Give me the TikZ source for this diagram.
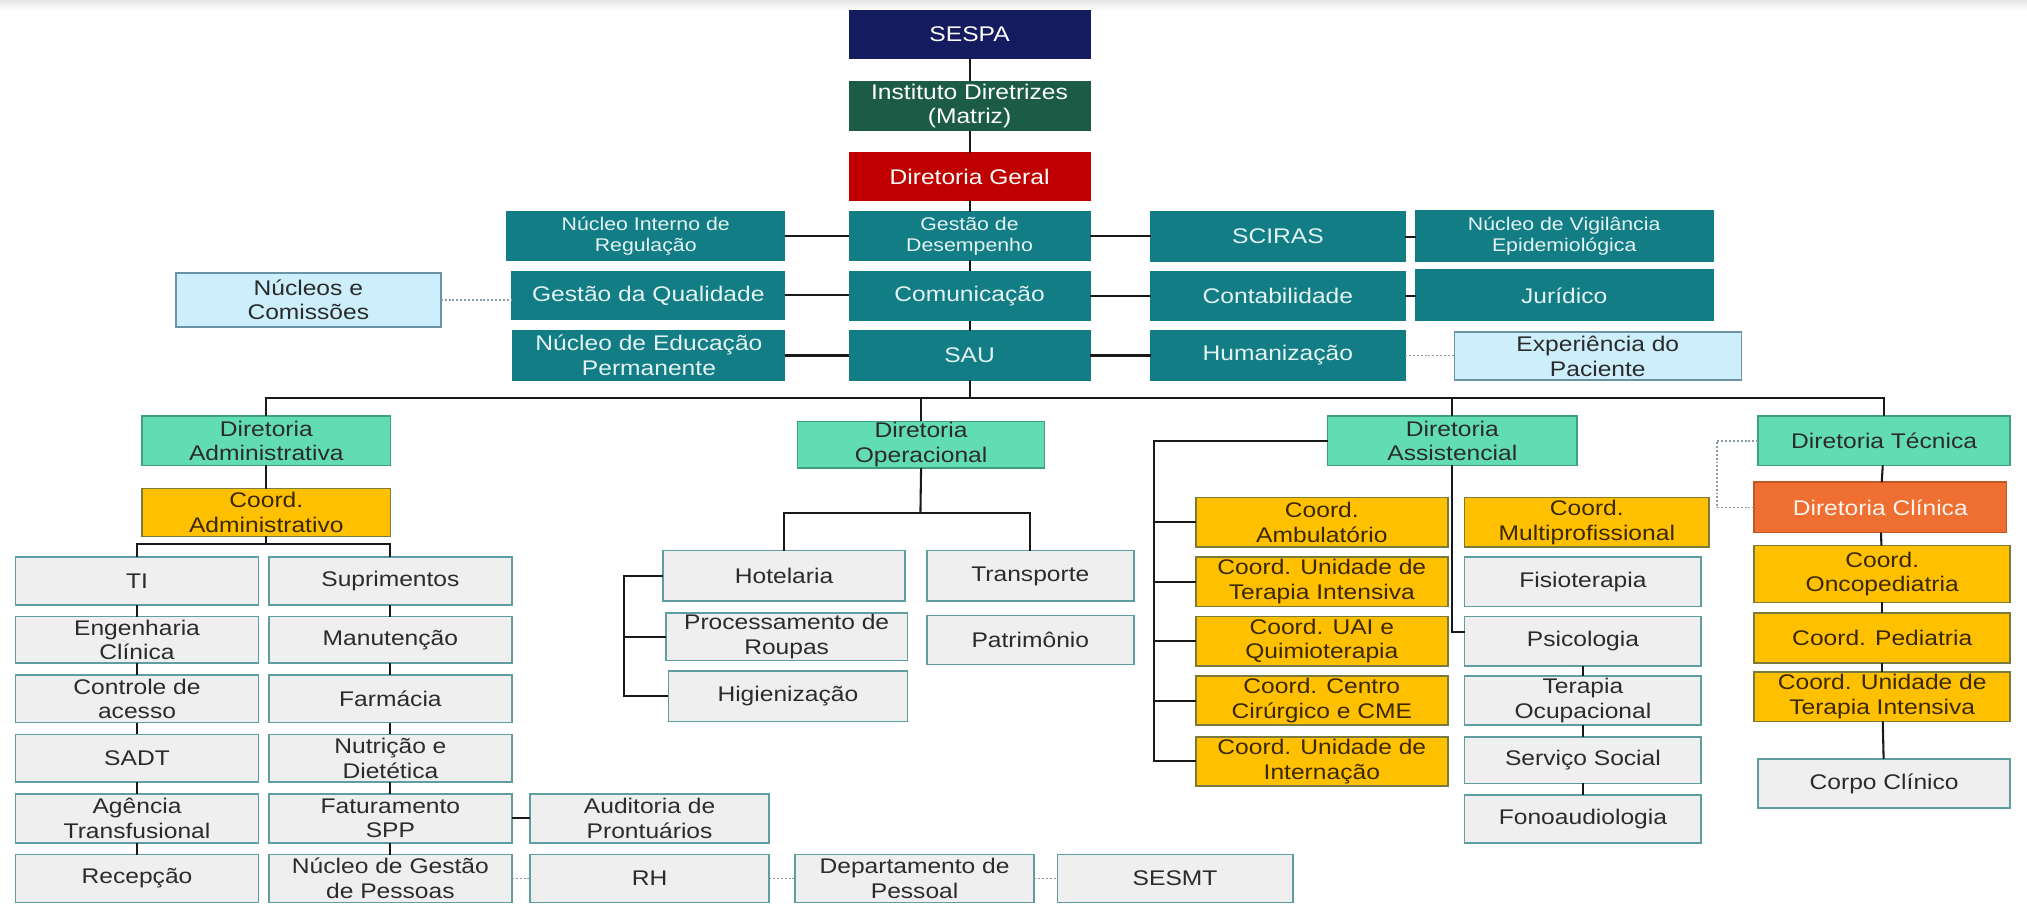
\documentclass[tikz,border=0pt]{standalone}
\usepackage{fontspec}
\setmainfont{Liberation Sans}[FakeStretch=1.16]
\definecolor{navyc}{HTML}{141B5E}
\definecolor{dgreenc}{HTML}{1C5C46}
\definecolor{dredc}{HTML}{C00000}
\definecolor{tealc}{HTML}{137D85}
\definecolor{tealtxt}{HTML}{E4F3F3}
\definecolor{mintc}{HTML}{62DDB3}
\definecolor{mintb}{HTML}{3F9F7F}
\definecolor{yelc}{HTML}{FFC000}
\definecolor{yelb}{HTML}{7A7A3A}
\definecolor{yeltxt}{HTML}{3A2800}
\definecolor{lgrayc}{HTML}{EFEFF0}
\definecolor{lgrayb}{HTML}{5E9EA0}
\definecolor{lbluec}{HTML}{CDEEFB}
\definecolor{lblueb}{HTML}{6A93A8}
\definecolor{orngc}{HTML}{EE6F31}
\definecolor{darktxt}{HTML}{2B2B2B}
\definecolor{dotc}{HTML}{8A9AA8}
\newcommand\mainf{\fontsize{16.4}{19}\selectfont}
\newcommand\smallf{\fontsize{14.2}{16.5}\selectfont}
\newcommand\mkbox[7]{\node[#6, minimum width={(#4-#2)*1pt}, minimum height={(#5-#3)*1pt}] (#1) at ({(#2+#4)/2},{(#3+#5)/2}) {#7};}
\tikzset{
  box/.style={rectangle, inner sep=0pt, outer sep=0pt, align=center, line width=1.2pt, font=\mainf},
  navybox/.style={box, fill=navyc, draw=navyc, text=white},
  greenbox/.style={box, fill=dgreenc, draw=dgreenc, text=white},
  redbox/.style={box, fill=dredc, draw=dredc, text=white},
  tbox/.style={box, fill=tealc, draw=tealc, text=tealtxt},
  tsbox/.style={tbox, font=\smallf},
  mbox/.style={box, fill=mintc, draw=mintb, text=darktxt},
  ybox/.style={box, fill=yelc, draw=yelb, text=yeltxt},
  gbox/.style={box, fill=lgrayc, draw=lgrayb, text=darktxt},
  bbox/.style={box, fill=lbluec, draw=lblueb, text=darktxt},
  obox/.style={box, fill=orngc, draw=orngc!80!black, text=white!92!orngc},
  ln/.style={line width=1.6pt, draw=black!90},
  dln/.style={line width=1.3pt, draw=dotc, dash pattern=on 1.5pt off 1.5pt},
}
\begin{document}
\begin{tikzpicture}[x=1pt, y=-1pt]
\useasboundingbox (0,0) rectangle (1568,699);
\fill[white] (0,0) rectangle (1568,699);
\shade[top color=black!10, bottom color=white] (0,0) rectangle (1568,8);
% top column
\mkbox{sespa}{657}{8}{843}{45}{navybox}{SESPA}
\mkbox{inst}{657}{63}{843}{101}{greenbox}{Instituto Diretrizes\\(Matriz)}
\mkbox{dg}{657}{118}{843}{155}{redbox}{Diretoria Geral}
% row 1
\mkbox{nir}{392}{164}{607}{201}{tsbox}{Núcleo Interno de\\Regulação}
\mkbox{gd}{657}{164}{843}{201}{tsbox}{Gestão de\\Desempenho}
\mkbox{sci}{890}{164}{1087}{202}{tbox}{SCIRAS}
\mkbox{nve}{1095}{163}{1325}{202}{tsbox}{Núcleo de Vigilância\\Epidemiológica}
% row 2
\mkbox{nc}{136}{211}{341}{253}{bbox}{Núcleos e\\Comissões}
\mkbox{gq}{396}{210}{607}{247}{tbox}{Gestão da Qualidade}
\mkbox{com}{657}{210}{843}{248}{tbox}{Comunicação}
\mkbox{cont}{890}{210}{1087}{248}{tbox}{Contabilidade}
\mkbox{jur}{1095}{209}{1325}{248}{tbox}{Jurídico}
% row 3
\mkbox{nep}{397}{256}{607}{294}{tbox}{Núcleo de Educação\\Permanente}
\mkbox{sau}{657}{256}{843}{294}{tbox}{SAU}
\mkbox{hum}{890}{256}{1087}{294}{tbox}{Humanização}
\mkbox{exp}{1125}{257}{1347}{294}{bbox}{Experiência do\\Paciente}
% diretorias
\mkbox{dadm}{110}{322}{302}{360}{mbox}{Diretoria\\Administrativa}
\mkbox{dop}{617}{326}{808}{362}{mbox}{Diretoria\\Operacional}
\mkbox{das}{1027}{322}{1220}{360}{mbox}{Diretoria\\Assistencial}
\mkbox{dtec}{1360}{322}{1555}{360}{mbox}{Diretoria Técnica}
% administrativa
\mkbox{cadm}{110}{378}{302}{415}{ybox}{Coord.\\Administrativo}
\mkbox{ti}{12}{431}{200}{468}{gbox}{TI}
\mkbox{eng}{12}{477}{200}{513}{gbox}{Engenharia\\Clínica}
\mkbox{ctrl}{12}{522}{200}{559}{gbox}{Controle de\\acesso}
\mkbox{sadt}{12}{568}{200}{605}{gbox}{SADT}
\mkbox{agt}{12}{614}{200}{652}{gbox}{Agência\\Transfusional}
\mkbox{rec}{12}{661}{200}{698}{gbox}{Recepção}
\mkbox{sup}{208}{431}{396}{468}{gbox}{Suprimentos}
\mkbox{man}{208}{477}{396}{513}{gbox}{Manutenção}
\mkbox{far}{208}{522}{396}{559}{gbox}{Farmácia}
\mkbox{nut}{208}{568}{396}{605}{gbox}{Nutrição e\\Dietética}
\mkbox{fat}{208}{614}{396}{652}{gbox}{Faturamento\\SPP}
\mkbox{ngp}{208}{661}{396}{698}{gbox}{Núcleo de Gestão\\de Pessoas}
\mkbox{aud}{410}{614}{595}{652}{gbox}{Auditoria de\\Prontuários}
\mkbox{rh}{410}{661}{595}{698}{gbox}{RH}
\mkbox{dp}{615}{661}{800}{698}{gbox}{Departamento de\\Pessoal}
\mkbox{sesmt}{818}{661}{1000}{698}{gbox}{SESMT}
% operacional
\mkbox{hot}{513}{426}{700}{465}{gbox}{Hotelaria}
\mkbox{pr}{515}{474}{702}{511}{gbox}{Processamento de\\Roupas}
\mkbox{hig}{517}{519}{702}{558}{gbox}{Higienização}
\mkbox{tra}{717}{426}{877}{465}{gbox}{Transporte}
\mkbox{pat}{717}{476}{877}{514}{gbox}{Patrimônio}
% assistencial
\mkbox{camb}{925}{385}{1120}{423}{ybox}{Coord.\\Ambulatório}
\mkbox{cuti}{925}{431}{1120}{469}{ybox}{Coord. Unidade de\\Terapia Intensiva}
\mkbox{cuai}{925}{477}{1120}{515}{ybox}{Coord. UAI e\\Quimioterapia}
\mkbox{ccc}{925}{523}{1120}{561}{ybox}{Coord. Centro\\Cirúrgico e CME}
\mkbox{cint}{925}{570}{1120}{608}{ybox}{Coord. Unidade de\\Internação}
\mkbox{cmul}{1133}{385}{1322}{423}{ybox}{Coord.\\Multiprofissional}
\mkbox{fis}{1133}{431}{1316}{469}{gbox}{Fisioterapia}
\mkbox{psi}{1133}{477}{1316}{515}{gbox}{Psicologia}
\mkbox{tocc}{1133}{523}{1316}{561}{gbox}{Terapia\\Ocupacional}
\mkbox{ss}{1133}{570}{1316}{606}{gbox}{Serviço Social}
\mkbox{fono}{1133}{615}{1316}{652}{gbox}{Fonoaudiologia}
% tecnica
\mkbox{dcli}{1357}{373}{1552}{412}{obox}{Diretoria Clínica}
\mkbox{conc}{1357}{422}{1555}{466}{ybox}{Coord.\\Oncopediatria}
\mkbox{cped}{1357}{474}{1555}{513}{ybox}{Coord. Pediatria}
\mkbox{cutt}{1357}{520}{1555}{558}{ybox}{Coord. Unidade de\\Terapia Intensiva}
\mkbox{ccli}{1360}{587}{1555}{625}{gbox}{Corpo Clínico}
% helper coordinates
\coordinate (bus) at (750,308);
\coordinate (ab) at (206,421);
\coordinate (ob) at (712,397);
\coordinate (obx) at (483,0);
\coordinate (ax) at (893,0);
\coordinate (tx) at (1328,0);
% connectors: top spine
\draw[ln] (sespa) -- (inst);
\draw[ln] (inst) -- (dg);
\draw[ln] (dg) -- (gd);
\draw[ln] (gd) -- (com);
\draw[ln] (com) -- (sau);
\draw[ln] (nir.east) -- (nir.east -| gd.west);
\draw[ln] (gd.east) -- (gd.east -| sci.west);
\draw[ln] (sci.east) -- (sci.east -| nve.west);
\draw[ln] (gq.east) -- (gq.east -| com.west);
\draw[ln] (com.east) -- (com.east -| cont.west);
\draw[ln] (cont.east) -- (cont.east -| jur.west);
\draw[ln] (nep.east) -- (nep.east -| sau.west);
\draw[ln] (sau.east) -- (sau.east -| hum.west);
\draw[dln] (nc.east) -- (nc.east -| gq.west);
\draw[dln] (hum.east) -- (hum.east -| exp.west);
% bus
\draw[ln] (sau.south) -- (bus);
\draw[ln] (dadm.north) |- (bus);
\draw[ln] (dtec.north) |- (bus);
\draw[ln] (dop.north) |- (bus);
\draw[ln] (das.north) |- (bus);
% administrativa
\draw[ln] (dadm) -- (cadm);
\draw[ln] (cadm.south) -- (ab);
\draw[ln] (ti.north) |- (ab);
\draw[ln] (sup.north) |- (ab);
\draw[ln] (ti) -- (eng);
\draw[ln] (eng) -- (ctrl);
\draw[ln] (ctrl) -- (sadt);
\draw[ln] (sadt) -- (agt);
\draw[ln] (agt) -- (rec);
\draw[ln] (sup) -- (man);
\draw[ln] (man) -- (far);
\draw[ln] (far) -- (nut);
\draw[ln] (nut) -- (fat);
\draw[ln] (fat) -- (ngp);
\draw[ln] (fat.east) -- (fat.east -| aud.west);
\draw[dln] (ngp.east) -- (ngp.east -| rh.west);
\draw[dln] (rh.east) -- (rh.east -| dp.west);
\draw[dln] (dp.east) -- (dp.east -| sesmt.west);
% operacional
\draw[ln] (dop.south) -- (ob);
\draw[ln] (hot.north) |- (ob);
\draw[ln] (tra.north) |- (ob);
\draw[ln] (hot.west) -- (hot.west -| obx) -- (hig.west -| obx) -- (hig.west);
\draw[ln] (pr.west) -- (pr.west -| obx);
% assistencial
\draw[ln] (das.west) -- (das.west -| ax) -- (cint.west -| ax) -- (cint.west);
\draw[ln] (camb.west -| ax) -- (camb.west);
\draw[ln] (cuti.west -| ax) -- (cuti.west);
\draw[ln] (cuai.west -| ax) -- (cuai.west);
\draw[ln] (ccc.west -| ax) -- (ccc.west);
\draw[ln] (das.south) |- ([yshift=7pt]psi.west);
\draw[ln] (psi) -- (tocc);
\draw[ln] (tocc) -- (ss);
\draw[ln] (ss) -- (fono);
% tecnica
\draw[ln] (dtec) -- (dcli);
\draw[ln] (dcli) -- (conc);
\draw[ln] (conc) -- (cped);
\draw[ln] (cped) -- (cutt);
\draw[ln] (cutt) -- (ccli);
\draw[dln] (dtec.west) -- (dtec.west -| tx) -- (dcli.west -| tx) -- (dcli.west);
\end{tikzpicture}
\end{document}
